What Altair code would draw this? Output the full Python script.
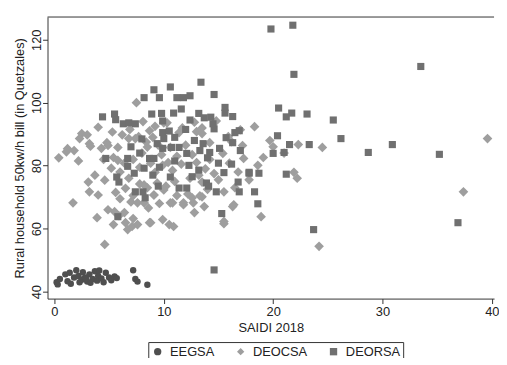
import altair as alt
import pandas as pd

groups = ["EEGSA", "DEOCSA", "DEORSA"]

eegsa_x = [0.2, 0.3, 0.5, 1.0, 1.2, 1.5, 1.8, 2.0, 2.2, 2.5, 2.6, 2.8, 3.0, 3.2, 3.5, 3.7, 3.9,
           4.0, 4.3, 4.5, 4.7, 5.0, 5.2, 5.5, 5.7, 1.4, 2.3, 3.3, 7.2, 7.4, 7.6, 8.5, 4.1, 2.9]
eegsa_y = [43.0, 42.3, 44.0, 45.5, 43.3, 42.5, 44.5, 46.8, 45.0, 43.8, 46.2, 44.5, 43.2, 45.5, 44.0, 46.5, 43.5,
           45.0, 44.2, 43.0, 46.0, 44.5, 43.6, 44.8, 44.3, 46.0, 43.0, 42.8, 46.8, 44.0, 43.2, 42.2, 46.7, 44.0]

deocsa_x = [39.6, 37.4, 24.2, 18.9, 18.3, 22.3, 24.5, 19.7, 20.0, 21.0, 19.1, 18.6, 21.9, 22.2, 4.6, 15.5, 1.7,
            0.4, 1.1, 1.8, 2.2, 2.5, 3.0, 2.3, 3.2, 3.3, 4.3, 4.8, 4.9, 4.5, 5.4, 5.2, 5.8, 6.4, 6.2, 6.8, 7.7,
            7.4, 7.5, 3.1, 3.7, 4.6, 3.2, 4.0, 4.9, 5.5, 5.9, 6.4, 3.9, 5.4, 6.5, 7.2, 7.1, 7.6, 8.8, 7.0, 7.6,
            8.2, 8.6, 5.8, 1.2, 10.0, 10.3, 11.7, 11.4, 13.0, 13.5, 13.5, 17.0, 14.2, 15.9, 16.2, 8.7, 17.2,
            17.3, 15.4, 16.0, 12.4, 13.2, 13.5, 9.1, 10.6, 11.8, 12.7, 13.5, 13.7, 12.8, 15.5, 16.4, 15.5,
            8.7, 9.9, 10.5, 10.9, 8.8, 9.2, 9.9, 8.5, 10.6, 6.0, 6.8, 7.2, 7.8, 8.0, 8.4, 9.0, 9.5, 9.8,
            10.4, 10.8, 11.2, 11.6, 12.0, 12.6, 13.0, 13.8, 14.2, 14.6, 15.0, 11.0, 10.2, 9.4, 8.5, 7.8,
            6.5, 5.6, 6.0, 7.2, 9.6, 11.2, 12.2, 14.0, 16.8, 17.8, 16.5, 8.1, 9.2, 12.8, 14.8, 6.9, 5.3,
            4.0, 6.7, 16.3, 8.2, 9.1, 10.0, 10.8, 11.8, 12.6, 13.3]
deocsa_y = [88.6, 71.7, 54.4, 63.8, 92.4, 86.7, 85.8, 88.0, 86.0, 84.0, 82.6, 80.1, 77.9, 76.0, 55.0, 61.6, 68.2,
            82.5, 84.4, 84.8, 81.5, 90.2, 89.8, 88.6, 87.0, 86.2, 85.5, 87.3, 86.4, 82.0, 82.6, 79.2, 81.7, 80.8,
            89.8, 88.6, 89.2, 88.6, 100.0, 74.8, 77.0, 75.4, 71.7, 70.7, 66.0, 65.4, 64.1, 65.1, 63.5, 61.3,
            61.9, 63.2, 60.7, 61.3, 61.9, 68.5, 68.2, 68.2, 66.6, 85.8, 85.4, 93.6, 93.6, 92.0, 90.5, 90.8,
            92.0, 90.2, 91.4, 87.3, 89.2, 87.6, 91.1, 86.4, 82.3, 83.9, 80.8, 76.0, 77.0, 74.8, 70.7, 68.2,
            67.6, 68.2, 70.1, 67.0, 65.1, 71.7, 67.6, 62.3, 61.9, 62.9, 61.3, 60.7, 80.8, 77.9, 80.1, 85.9,
            85.8, 78.0, 76.0, 82.0, 79.5, 84.0, 87.5, 89.0, 86.5, 83.5, 81.0, 78.5, 83.0, 80.5, 86.5, 83.5,
            81.0, 79.0, 82.0, 77.5, 75.5, 75.0, 73.5, 74.5, 73.0, 74.2, 72.8, 71.5, 69.5, 70.5, 68.0, 70.5,
            71.0, 72.5, 78.0, 75.5, 73.0, 94.0, 92.5, 93.8, 94.2, 91.5, 90.7, 92.2, 59.7, 67.0, 73.9, 70.7,
            72.3, 68.2, 68.2, 69.8, 70.4]

deorsa_x = [19.8, 21.8, 21.9, 33.5, 20.5, 21.2, 21.7, 23.1, 25.5, 26.2, 20.4, 21.5, 23.3, 20.0, 21.0, 28.7,
            30.9, 35.2, 17.8, 18.7, 21.2, 18.3, 18.6, 23.7, 36.9, 14.6, 15.3,
            4.4, 5.5, 5.6, 6.3, 6.8, 7.4, 8.2, 8.9, 9.1, 9.6, 9.8, 10.6, 10.9, 11.2, 11.6, 11.8, 12.4, 13.4,
            13.2, 13.7, 14.3, 14.6, 12.4, 14.5, 14.6, 15.6, 15.6, 16.3, 16.9, 16.3, 15.7, 9.9, 9.9, 10.0,
            4.7, 5.7, 5.9, 6.7, 7.3, 7.4, 8.1, 8.3, 6.7, 8.2, 9.0, 8.7, 9.1, 9.9, 10.7, 11.4, 12.1, 13.3,
            14.2, 15.1, 12.3, 13.2, 15.0, 10.6, 11.4, 12.1, 13.9, 14.8, 16.8, 17.8, 5.8, 16.9, 14.1,
            7.0, 8.0, 9.4, 10.5, 11.0, 12.8, 13.6, 12.0, 7.8, 9.6, 11.0, 14.0, 12.6, 9.5, 16.2, 15.5, 17.0, 16.5]
deorsa_y = [123.4, 124.6, 109.0, 111.5, 98.3, 95.5, 96.7, 96.4, 94.5, 88.6, 89.5, 86.7, 86.7, 83.9, 84.2, 84.2,
            86.7, 83.6, 77.6, 77.6, 77.3, 71.7, 67.9, 59.7, 61.9, 46.9, 64.8,
            95.5, 96.4, 94.6, 93.3, 93.6, 93.3, 101.6, 96.4, 104.1, 101.6, 96.6, 105.0, 96.7, 101.6, 98.0,
            101.6, 102.2, 106.5, 96.6, 95.2, 95.4, 102.6, 94.5, 93.3, 91.7, 98.5, 96.7, 95.6, 91.1, 87.3, 88.9,
            94.2, 90.5, 88.6, 82.3, 76.4, 74.8, 79.8, 77.6, 71.7, 71.7, 69.8, 82.3, 79.2, 77.0, 82.3, 82.3,
            85.5, 85.8, 85.8, 83.9, 84.8, 84.2, 85.5, 80.1, 78.6, 80.8, 76.4, 72.9, 72.9, 74.5, 71.7, 74.8,
            77.9, 63.8, 71.7, 73.5, 86.0, 88.5, 87.0, 91.0, 89.0, 88.0, 87.0, 91.5, 84.0, 79.5, 81.5, 82.5,
            76.5, 73.5, 80.5, 77.8, 84.8, 90.5]

colors = ["#4f4f4f", "#9e9e9e", "#707070"]
shapes = ["circle", "diamond", "square"]
sizes = [42, 96, 52]

W, H = 452, 285

x_enc = alt.X("saidi:Q", scale=alt.Scale(domain=[-0.63, 40.2], nice=False, zero=False),
              axis=alt.Axis(values=[0, 10, 20, 30, 40], title="SAIDI 2018", grid=False,
                            labelPadding=2, titlePadding=3))
y_enc = alt.Y("bill:Q", scale=alt.Scale(domain=[37.8, 127.2], nice=False, zero=False),
              axis=alt.Axis(values=[40, 60, 80, 100, 120], title="Rural household 50kw/h bill (in Quetzales)",
                            grid=False, labelAngle=-90, labelAlign="center", labelBaseline="alphabetic",
                            labelPadding=2, titlePadding=4))
leg = alt.Legend(title=None, orient="none", legendX=102, legendY=329, direction="horizontal",
                 strokeColor="#333333", padding=3, fillColor="white", labelFontSize=13, symbolSize=55,
                 columnPadding=20, labelOffset=6, symbolStrokeWidth=0)
color_enc = alt.Color("company:N", scale=alt.Scale(domain=groups, range=colors), legend=leg)
shape_enc = alt.Shape("company:N", scale=alt.Scale(domain=groups, range=shapes), legend=leg)

layers = []
for g, xs, ys, sz in [("EEGSA", eegsa_x, eegsa_y, sizes[0]),
                      ("DEOCSA", deocsa_x, deocsa_y, sizes[1]),
                      ("DEORSA", deorsa_x, deorsa_y, sizes[2])]:
    d = pd.DataFrame({"saidi": xs, "bill": ys, "company": g})
    layers.append(
        alt.Chart(d).mark_point(filled=True, opacity=1, strokeWidth=0, size=sz).encode(
            x=x_enc, y=y_enc, color=color_enc, shape=shape_enc
        )
    )

top = alt.Chart(pd.DataFrame({"a": [0]})).mark_rule(color="#333333", strokeWidth=1).encode(
    x=alt.value(0), x2=alt.value(W), y=alt.value(0)
)

chart = alt.layer(*layers, top).properties(
    width=W, height=H,
    autosize=alt.AutoSizeParams(type="none"),
    padding={"left": 40, "top": 7, "right": 5, "bottom": 58},
).configure_view(stroke=None).configure_axis(
    domainColor="#333333", tickColor="#333333", tickSize=5, labelFont="Liberation Sans",
    labelFontSize=13, labelColor="#222222", titleFont="Liberation Sans", titleFontSize=13,
    titleFontWeight="normal", titleColor="#222222"
).configure_legend(labelFont="Liberation Sans", labelColor="#222222")

chart.save("out.html", embed_options={"renderer": "svg", "actions": False})
